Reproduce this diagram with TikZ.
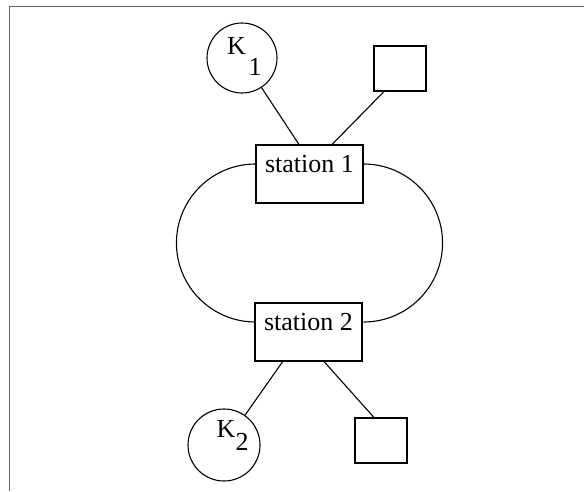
\documentclass[tikz,border=0pt]{standalone}
\usepackage{fontspec}
\setmainfont{Liberation Serif}
\begin{document}
\begin{tikzpicture}[x=1pt,y=-1pt,
  line width=1.1pt,
  txt/.style={inner sep=0pt,font=\fontsize{26}{30}\selectfont},
  stbox/.style={draw,rectangle,minimum width=107pt,minimum height=58pt,inner sep=0pt,
    text height=18pt,text depth=22pt,font=\fontsize{26}{30}\selectfont},
  kcirc/.style={draw,circle,inner sep=0pt},
  sqbox/.style={draw,rectangle,minimum width=52pt,minimum height=45pt,inner sep=0pt},
  frame/.style={draw=black!60,line width=0.9pt}]
\useasboundingbox (0,0) rectangle (584,491);
\draw[frame] (584,6) -- (9,6) -- (9,491);
% stations
\node[stbox] (s1) at (309.5,174) {station 1};
\node[stbox] (s2) at (308.5,332) {station 2};
% circles
\node[kcirc,minimum size=70pt] (k1) at (242,58) {};
\node[kcirc,minimum size=72pt] (k2) at (224,445) {};
\node[txt,anchor=base west] (k1a) at (226.5,54) {K};
\node[txt,anchor=base west] (k1b) at (248,75) {1};
\node[txt,anchor=base west] (k2a) at (216,437) {K};
\node[txt,anchor=base west] (k2b) at (235,450) {2};
% squares
\node[sqbox] (q1) at (400,68.5) {};
\node[sqbox] (q2) at (381,440.5) {};
% connectors
\draw (k1) -- ([xshift=-10.5pt]s1.north);
\draw ([xshift=-16pt]q1.south) -- ([xshift=22.5pt]s1.north);
\draw (k2) -- ([xshift=-25.8pt]s2.south);
\draw ([xshift=-7pt]q2.north) -- ([xshift=15.5pt]s2.south);
% loop
\draw ([yshift=10pt]s1.west) arc[start angle=270,end angle=90,radius=79];
\draw ([yshift=10pt]s1.east) arc[start angle=-90,end angle=90,radius=79];
\end{tikzpicture}
\end{document}
